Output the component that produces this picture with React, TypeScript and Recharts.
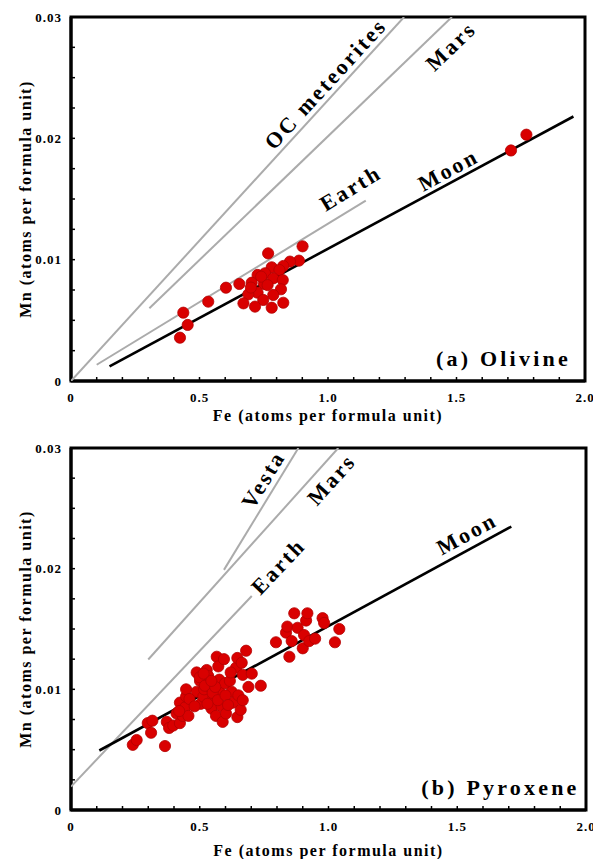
import React from 'react';
import { ScatterChart, Scatter, XAxis, YAxis, ReferenceArea, Label } from 'recharts';

const FONT = "'Liberation Serif', 'Times New Roman', serif";

// ---------- axes ----------
const X_TICKS = [0, 0.1, 0.2, 0.3, 0.4, 0.5, 0.6, 0.7, 0.8, 0.9, 1.0, 1.1, 1.2, 1.3, 1.4, 1.5, 1.6, 1.7, 1.8, 1.9, 2.0];
const X_MAJOR = [0, 0.5, 1.0, 1.5, 2.0];
const X_MAJOR_LABELS = ['0', '0.5', '1.0', '1.5', '2.0'];
const Y_TICKS = [0, 0.0025, 0.005, 0.0075, 0.01, 0.0125, 0.015, 0.0175, 0.02, 0.0225, 0.025, 0.0275, 0.03];
const Y_MAJOR = [0, 0.01, 0.02, 0.03];
const Y_MAJOR_LABELS = ['0', '0.01', '0.02', '0.03'];
const X_TITLE = 'Fe (atoms per formula unit)';
const Y_TITLE = 'Mn (atoms per formula unit)';

// ---------- (a) Olivine ----------
const OLIVINE_POINTS: [number, number][] = [
  [1.772, 0.0203], [1.712, 0.019], [0.901, 0.0111], [0.767, 0.01052], [0.887, 0.00992],
  [0.852, 0.00984], [0.826, 0.00948], [0.781, 0.00937], [0.811, 0.00915], [0.755, 0.00888],
  [0.726, 0.00874], [0.787, 0.00846], [0.824, 0.00832], [0.703, 0.0081], [0.751, 0.008],
  [0.655, 0.008], [0.603, 0.00769], [0.817, 0.00756], [0.726, 0.00728], [0.69, 0.00714],
  [0.787, 0.00709], [0.748, 0.00668], [0.671, 0.0064], [0.826, 0.00645], [0.716, 0.00613],
  [0.781, 0.00604], [0.534, 0.00654], [0.437, 0.00563], [0.454, 0.00462], [0.424, 0.00357],
  [0.74, 0.0086], [0.70, 0.0077], [0.765, 0.0079],
];
const OLIVINE_LINES = [
  { name: 'OC meteorites', pts: [[0, 0], [1.296, 0.03]] },
  { name: 'Mars', pts: [[0.305, 0.006], [1.482, 0.03]] },
  { name: 'Earth', pts: [[0.1, 0.00134], [1.147, 0.01486]] },
  { name: 'Moon', pts: [[0.15, 0.0012], [1.955, 0.0218]] },
];
const OLIVINE_LABELS = [
  { text: 'OC meteorites', line: 'OC meteorites', x: 0.99, y: 0.0245 },
  { text: 'Mars', line: 'Mars', x: 1.478, y: 0.0276 },
  { text: 'Earth', line: 'Earth', x: 1.088, y: 0.0159 },
  { text: 'Moon', line: 'Moon', x: 1.468, y: 0.0174 },
];

// ---------- (b) Pyroxene ----------
const PYROXENE_POINTS: [number, number][] = [
  [0.24, 0.0054], [0.255, 0.0058], [0.298, 0.0072], [0.316, 0.0074], [0.311, 0.0064],
  [0.365, 0.0053], [0.372, 0.0073], [0.381, 0.0068], [0.397, 0.007], [0.423, 0.0072],
  [0.41, 0.008], [0.434, 0.0078], [0.423, 0.0089], [0.443, 0.0085], [0.456, 0.0078],
  [0.447, 0.0094], [0.447, 0.01], [0.488, 0.0098], [0.488, 0.0114], [0.501, 0.0107],
  [0.504, 0.0088], [0.514, 0.0094], [0.517, 0.01], [0.527, 0.0116], [0.533, 0.0111],
  [0.54, 0.0102], [0.546, 0.0084], [0.553, 0.0093], [0.563, 0.0078], [0.566, 0.0127],
  [0.572, 0.0119], [0.576, 0.0108], [0.579, 0.0097], [0.585, 0.0086], [0.589, 0.0073],
  [0.594, 0.0125], [0.598, 0.0105], [0.602, 0.008], [0.617, 0.0107], [0.624, 0.0098],
  [0.63, 0.0089], [0.641, 0.0118], [0.646, 0.0126], [0.65, 0.0095], [0.646, 0.0077],
  [0.659, 0.0083], [0.663, 0.0122], [0.667, 0.0112], [0.667, 0.0091], [0.68, 0.0132],
  [0.689, 0.0102], [0.702, 0.0113], [0.737, 0.0103],
  [0.796, 0.0139], [0.835, 0.0147], [0.84, 0.0152], [0.848, 0.0127], [0.857, 0.014],
  [0.867, 0.0163], [0.88, 0.0151], [0.9, 0.0134], [0.905, 0.0145], [0.913, 0.0157],
  [0.918, 0.0163], [0.925, 0.014], [0.948, 0.0142], [0.977, 0.0159], [0.983, 0.0155],
  [1.025, 0.0139], [1.042, 0.015],
  [0.5, 0.011], [0.52, 0.0103], [0.55, 0.0097], [0.57, 0.0091], [0.6, 0.0095],
  [0.62, 0.0114], [0.46, 0.0092], [0.48, 0.0086], [0.53, 0.0088], [0.56, 0.0102],
  [0.61, 0.0087], [0.515, 0.0113], [0.545, 0.0107], [0.42, 0.0082],
];
const PYROXENE_LINES = [
  { name: 'Vesta', pts: [[0.594, 0.0199], [0.883, 0.03]] },
  { name: 'Mars', pts: [[0.3, 0.01247], [1.038, 0.03]] },
  { name: 'Earth', pts: [[0, 0.00194], [0.702, 0.01773]] },
  { name: 'Moon', pts: [[0.11, 0.00493], [1.71, 0.02349]] },
];
const PYROXENE_LABELS = [
  { text: 'Vesta', line: 'Vesta', x: 0.747, y: 0.0274 },
  { text: 'Mars', line: 'Mars', x: 1.012, y: 0.0274 },
  { text: 'Earth', line: 'Earth', x: 0.805, y: 0.0202 },
  { text: 'Moon', line: 'Moon', x: 1.537, y: 0.0229 },
];

const lookup = (ticks: number[], labels: string[], v: number) => {
  const i = ticks.findIndex((t) => Math.abs(t - v) < 1e-9);
  return i >= 0 ? labels[i] : '';
};

const XTick = (p: any) => (
  <text x={p.x} y={p.y} textAnchor="middle" dominantBaseline="central" fontFamily={FONT}
    fontWeight={700} fontSize={13} letterSpacing={1} fill="#000">
    {lookup(X_MAJOR, X_MAJOR_LABELS, p.payload.value)}
  </text>
);
const YTick = (p: any) => (
  <text x={p.x} y={p.y} textAnchor="end" dominantBaseline="central" fontFamily={FONT}
    fontWeight={700} fontSize={13} letterSpacing={1} fill="#000">
    {lookup(Y_MAJOR, Y_MAJOR_LABELS, p.payload.value)}
  </text>
);

type PanelProps = {
  top: number;
  height: number;
  marginTop: number;
  marginRight: number;
  points: [number, number][];
  lines: { name: string; pts: number[][] }[];
  labels: { text: string; line: string; x: number; y: number }[];
  panelLabel: string;
  panelLabelPos: { x: number; y: number };
  titleGap: number;
};

const Panel = ({ top, height, marginTop, marginRight, points, lines, labels, panelLabel, panelLabelPos, titleGap }: PanelProps) => {
  const width = 593;
  const yAxisW = 71;
  const xAxisH = 40;
  const marginBottom = 9;
  const plotW = width - yAxisW - marginRight;
  const plotH = height - marginTop - marginBottom - xAxisH;
  const angleOf = (name: string) => {
    const l = lines.find((ln) => ln.name === name)!;
    const [[x1, y1], [x2, y2]] = l.pts;
    const dx = ((x2 - x1) * plotW) / 2;
    const dy = ((y2 - y1) * plotH) / 0.03;
    return (Math.atan2(dy, dx) * 180) / Math.PI;
  };
  const pointData = points.map(([x, y]) => ({ x, y }));
  const labelData = labels.map((l) => ({ x: l.x, y: l.y, text: l.text, angle: angleOf(l.line) }));
  const panelData = [{ x: panelLabelPos.x, y: panelLabelPos.y, text: panelLabel }];

  return (
    <div style={{ position: 'absolute', left: 0, top, width, height }}>
      <ScatterChart width={width} height={height}
        margin={{ top: marginTop, right: marginRight, bottom: marginBottom, left: 0 }}>
        <XAxis type="number" dataKey="x" domain={[0, 2]} ticks={X_TICKS} allowDataOverflow
          height={xAxisH} interval={0} tickSize={-4} tickMargin={20}
          axisLine={{ stroke: '#000', strokeWidth: 3 }} tickLine={{ stroke: '#000', strokeWidth: 1.5 }}
          tick={<XTick />}>
          <Label content={(props: any) => {
            const vb = props.viewBox;
            return (
              <text x={vb.x + vb.width / 2} y={vb.y + titleGap} textAnchor="middle" dominantBaseline="central"
                fontFamily={FONT} fontWeight={700} fontSize={16} letterSpacing={1.5} fill="#000">
                {X_TITLE}
              </text>
            );
          }} />
        </XAxis>
        <YAxis type="number" dataKey="y" domain={[0, 0.03]} ticks={Y_TICKS} allowDataOverflow
          width={yAxisW} interval={0} tickSize={-4} tickMargin={13}
          axisLine={{ stroke: '#000', strokeWidth: 3 }} tickLine={{ stroke: '#000', strokeWidth: 1.5 }}
          tick={<YTick />}>
          <Label content={(props: any) => {
            const vb = props.viewBox;
            const cx = vb.x + 25;
            const cy = vb.y + vb.height / 2;
            return (
              <text x={cx} y={cy} transform={`rotate(-90 ${cx} ${cy})`} textAnchor="middle"
                dominantBaseline="central" fontFamily={FONT} fontWeight={700} fontSize={16}
                letterSpacing={1.5} fill="#000">
                {Y_TITLE}
              </text>
            );
          }} />
        </YAxis>
        <ReferenceArea x1={0} x2={2} y1={0} y2={0.03} fill="none" stroke="#000" strokeWidth={3}
          ifOverflow="visible" />
        {lines.map((ln) => (
          <Scatter key={ln.name} data={ln.pts.map(([x, y]) => ({ x, y }))} isAnimationActive={false}
            line={{ stroke: ln.name === 'Moon' ? '#000' : '#ababab', strokeWidth: ln.name === 'Moon' ? 2.6 : 2 }}
            shape={() => <g />} />
        ))}
        <Scatter data={pointData} isAnimationActive={false}
          shape={(p: any) => <circle cx={p.cx} cy={p.cy} r={5.6} fill="#d90000" stroke="#b30000" strokeWidth={0.8} />} />
        <Scatter data={labelData} isAnimationActive={false}
          shape={(p: any) => (
            <text x={p.cx} y={p.cy} transform={`rotate(${-p.payload.angle} ${p.cx} ${p.cy})`}
              textAnchor="middle" dominantBaseline="central" fontFamily={FONT} fontWeight={700}
              fontSize={22} letterSpacing={2.5} fill="#000">
              {p.payload.text}
            </text>
          )} />
        <Scatter data={panelData} isAnimationActive={false}
          shape={(p: any) => (
            <text x={p.cx} y={p.cy} textAnchor="end" fontFamily={FONT} fontWeight={700}
              fontSize={22} letterSpacing={3.2} fill="#000">
              {p.payload.text}
            </text>
          )} />
      </ScatterChart>
    </div>
  );
};

export default function App() {
  return (
    <div style={{ position: 'absolute', left: 0, top: 0, width: 593, height: 859, background: '#fff', overflow: 'hidden' }}>
      <Panel top={0} height={430} marginTop={17} marginRight={8}
        points={OLIVINE_POINTS} lines={OLIVINE_LINES} labels={OLIVINE_LABELS}
        panelLabel="(a) Olivine" panelLabelPos={{ x: 1.945, y: 0.00126 }} titleGap={34} />
      <Panel top={430} height={429} marginTop={18} marginRight={7}
        points={PYROXENE_POINTS} lines={PYROXENE_LINES} labels={PYROXENE_LABELS}
        panelLabel="(b) Pyroxene" panelLabelPos={{ x: 1.975, y: 0.00125 }} titleGap={40} />
    </div>
  );
}
